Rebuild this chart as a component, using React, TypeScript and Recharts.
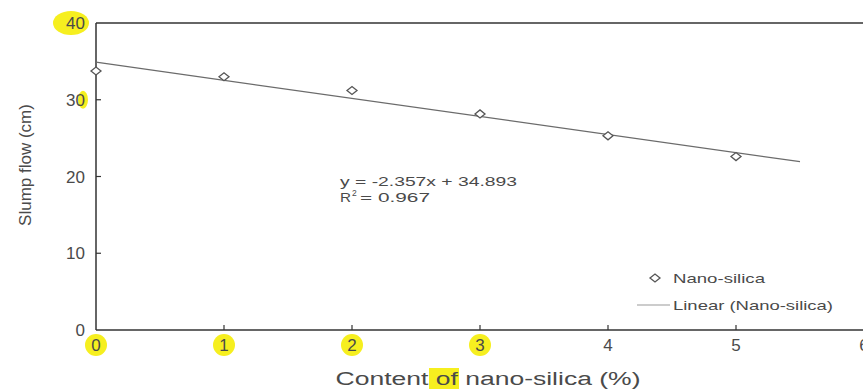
import React from 'react';
import {
  ScatterChart,
  Scatter,
  XAxis,
  YAxis,
  ReferenceLine,
  Customized,
} from 'recharts';

// nano-silica content (%) and measured slump flow (cm)
const contents = [0, 1, 2, 3, 4, 5];
const slumpFlow = [33.75, 33.0, 31.2, 28.15, 25.3, 22.6];

// linear trend end points (y = -2.357x + 34.893)
const trendX = [0, 5.5];
const trendY = [34.89, 21.93];

const xTicks = [0, 1, 2, 3, 4, 5, 6];
const yTicks = [0, 10, 20, 30, 40];
const highlightedX = [0, 1, 2, 3];

const equationLines = ['y = -2.357x + 34.893', 'R', '2', '= 0.967'];
const legendLabels = ['Nano-silica', 'Linear (Nano-silica)'];

const points = contents.map((x, i) => ({ x, y: slumpFlow[i] }));
const trend = trendX.map((x, i) => ({ x, y: trendY[i] }));

const FONT = '"Liberation Sans", Arial, sans-serif';
const TEXT = '#4a4a4a';
const AXIS = '#333';
const YELLOW = '#f6ef1f';

const Diamond = (props: any) => {
  const { cx, cy } = props;
  if (cx == null || cy == null) return <g />;
  return (
    <polygon
      points={`${cx - 5},${cy} ${cx},${cy - 4} ${cx + 5},${cy} ${cx},${cy + 4}`}
      fill="#fff"
      stroke="#555"
      strokeWidth={1.3}
    />
  );
};

const YTick = (props: any) => {
  const { x, y, payload } = props;
  const v = payload.value;
  return (
    <g>
      {v === 40 && <ellipse cx={x - 25} cy={y} rx={18} ry={12} fill={YELLOW} />}
      {v === 30 && <ellipse cx={x - 13} cy={y} rx={5} ry={9} fill={YELLOW} />}
      {v > 0 && v < 40 && (
        <line x1={x} x2={x + 5} y1={y} y2={y} stroke={AXIS} strokeWidth={1.2} />
      )}
      <text
        x={x - 11}
        y={y}
        dy="0.36em"
        textAnchor="end"
        fontSize={17}
        fontFamily={FONT}
        fill={TEXT}
      >
        {v}
      </text>
    </g>
  );
};

const XTick = (props: any) => {
  const { x, y, payload } = props;
  const v = payload.value;
  return (
    <g>
      {highlightedX.includes(v) && (
        <ellipse cx={x} cy={y + 15} rx={11} ry={11} fill={YELLOW} />
      )}
      {v > 0 && (
        <line x1={x} x2={x} y1={y} y2={y - 5} stroke={AXIS} strokeWidth={1.2} />
      )}
      <text
        x={x}
        y={y + 15}
        dy="0.36em"
        textAnchor="middle"
        fontSize={17}
        fontFamily={FONT}
        fill={TEXT}
      >
        {v}
      </text>
    </g>
  );
};

const XTitle = (props: any) => {
  const { viewBox } = props;
  const cx = viewBox.x + viewBox.width / 2 + 8;
  return (
    <g>
      <rect x={429} y={368} width={30} height={21} fill={YELLOW} />
      <text
        x={cx}
        y={385}
        textAnchor="middle"
        fontSize={18}
        fontFamily={FONT}
        fill={TEXT}
        textLength={305}
        lengthAdjust="spacingAndGlyphs"
      >
        Content of nano-silica (%)
      </text>
    </g>
  );
};

const YTitle = () => (
  <text
    x={0}
    y={0}
    transform="translate(31,165) rotate(-90)"
    textAnchor="middle"
    fontSize={17}
    fontFamily={FONT}
    fill={TEXT}
  >
    Slump flow (cm)
  </text>
);

const Annotations = () => (
  <g fontFamily={FONT} fill={TEXT}>
    {/* regression equation */}
    <text x={340} y={186} fontSize={13} textLength={177} lengthAdjust="spacingAndGlyphs">
      {equationLines[0]}
    </text>
    <text x={340} y={202} fontSize={13} textLength={11} lengthAdjust="spacingAndGlyphs">
      {equationLines[1]}
    </text>
    <text x={352} y={196} fontSize={8.5}>
      {equationLines[2]}
    </text>
    <text x={360} y={202} fontSize={13} textLength={70} lengthAdjust="spacingAndGlyphs">
      {equationLines[3]}
    </text>

    {/* legend */}
    <Diamond cx={655} cy={278} />
    <text x={673} y={283} fontSize={13.5} textLength={92} lengthAdjust="spacingAndGlyphs">
      {legendLabels[0]}
    </text>
    <line x1={637} x2={670} y1={305} y2={305} stroke="#999" strokeWidth={1.2} />
    <text x={673} y={310} fontSize={13.5} textLength={160} lengthAdjust="spacingAndGlyphs">
      {legendLabels[1]}
    </text>
  </g>
);

export default function App() {
  return (
    <div
      style={{
        position: 'absolute',
        left: 0,
        top: 0,
        width: 863,
        height: 389,
        overflow: 'hidden',
        background: '#fff',
      }}
    >
      <ScatterChart
        width={870}
        height={389}
        margin={{ top: 23, right: 6, bottom: 0, left: 0 }}
      >
        <XAxis
          type="number"
          dataKey="x"
          domain={[0, 6]}
          ticks={xTicks}
          interval={0}
          height={59}
          tickSize={0}
          tickMargin={0}
          tickLine={false}
          tick={<XTick />}
          axisLine={{ stroke: AXIS, strokeWidth: 1.5 }}
          label={<XTitle />}
        />
        <YAxis
          type="number"
          dataKey="y"
          domain={[0, 40]}
          ticks={yTicks}
          interval={0}
          width={96}
          tickSize={0}
          tickMargin={0}
          tickLine={false}
          tick={<YTick />}
          axisLine={{ stroke: AXIS, strokeWidth: 1.5 }}
          label={<YTitle />}
        />

        {/* frame top / right */}
        <ReferenceLine y={40} stroke={AXIS} strokeWidth={1.5} />
        <ReferenceLine x={6} stroke={AXIS} strokeWidth={1.5} />

        {/* trend line */}
        <Scatter
          data={trend}
          line={{ stroke: '#6b6b6b', strokeWidth: 1.2 }}
          shape={() => <g />}
          isAnimationActive={false}
        />

        {/* measured points */}
        <Scatter data={points} shape={<Diamond />} isAnimationActive={false} />

        <Customized component={<Annotations />} />
      </ScatterChart>
    </div>
  );
}
